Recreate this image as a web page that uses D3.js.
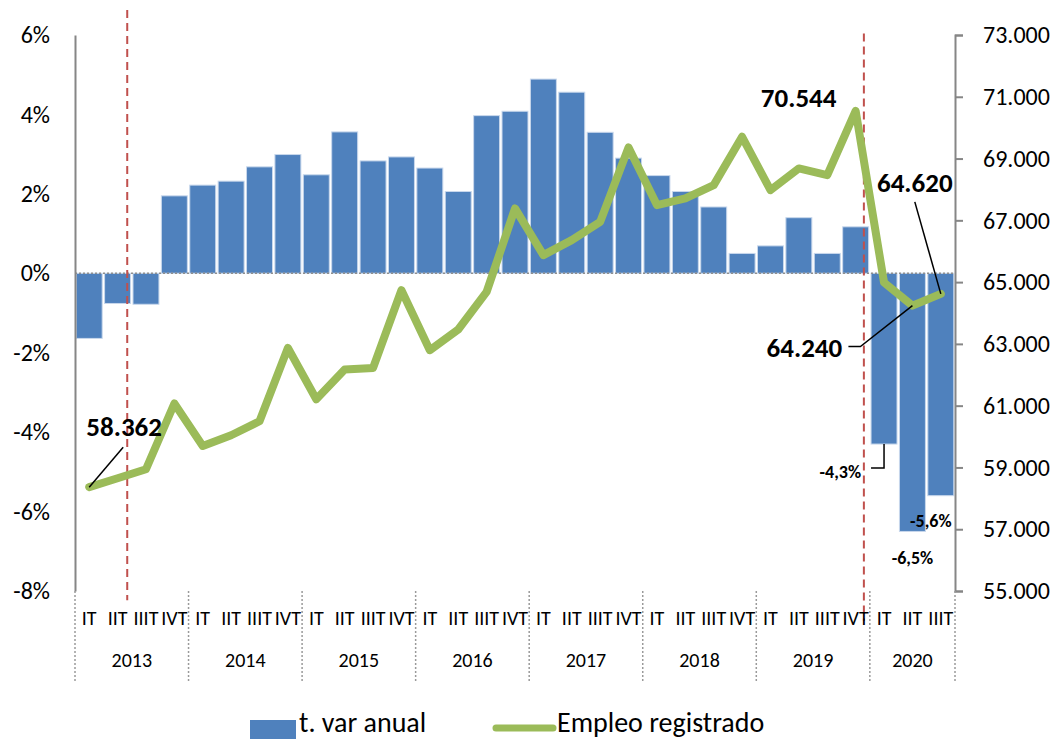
<!DOCTYPE html>
<html>
<head>
<meta charset="utf-8">
<script src="https://cdn.jsdelivr.net/npm/d3@7/dist/d3.min.js"></script>
<style>
  html, body { margin: 0; padding: 0; background: #fff; }
  svg { display: block; font-family: Carlito, Lato, "Open Sans", sans-serif; }
</style>
</head>
<body>
<svg id="chart" width="1059" height="741"></svg>
<script>
// ---------------- DATA ----------------
const years = ["2013", "2014", "2015", "2016", "2017", "2018", "2019", "2020"];
const quarterLabels = ["IT", "IIT", "IIIT", "IVT"];
const quartersPerYear = [4, 4, 4, 4, 4, 4, 4, 3];

// t. var anual (%)
const tasaVar = [-1.64, -0.76, -0.78, 1.95,
                 2.22, 2.32, 2.68, 2.99,
                 2.48, 3.56, 2.83, 2.93,
                 2.65, 2.06, 3.97, 4.08,
                 4.89, 4.56, 3.55, 2.90,
                 2.46, 2.06, 1.67, 0.50,
                 0.69, 1.40, 0.50, 1.17,
                 -4.3, -6.5, -5.6];

// Empleo registrado
const empleo = [58362, 58650, 58942, 61070,
                59696, 60043, 60496, 62870,
                61209, 62170, 62222, 64739,
                62796, 63466, 64684, 67385,
                65873, 66359, 66952, 69361,
                67493, 67709, 68140, 69704,
                67978, 68681, 68464, 70544,
                64988, 64240, 64620];

const leftTicks = [-8, -6, -4, -2, 0, 2, 4, 6];
const rightTicks = [55000, 57000, 59000, 61000, 63000, 65000, 67000, 69000, 71000, 73000];

// indices of labelled points
const lineLabelIdx = [0, 27, 29, 30];
const barLabelIdx = [28, 29, 30];
// red dashed reference lines (category position, top %, bottom %)
const refLines = [{ pos: 1.84, top: 6.63, bottom: -8.23 }, { pos: 27.79, top: 6.04, bottom: -8.75 }];

// ---------------- BUILD ----------------
const categories = [];
years.forEach((y, yi) => {
  for (let q = 0; q < quartersPerYear[yi]; q++) categories.push({ id: y + "-" + q, year: y, q: quarterLabels[q] });
});

const plot = { left: 75, right: 955, top: 35, bottom: 591 };
const svg = d3.select("#chart");

const x = d3.scaleBand().domain(categories.map(d => d.id))
  .range([plot.left, plot.right]).paddingInner(0.085).paddingOuter(0.0425);
const step = x.step();
const xPos = p => plot.left + p * step; // continuous category position

const yL = d3.scaleLinear().domain([-8, 6]).range([plot.bottom, plot.top]);
const yR = d3.scaleLinear().domain([55000, 73000]).range([plot.bottom, plot.top]);

const esLocale = d3.formatLocale({ decimal: ",", thousands: ".", grouping: [3], currency: ["", " €"], minus: "-" });
const fmtThousands = esLocale.format(",d");
const fmtPct = esLocale.format(".1f");

const blue = "#4F81BD", green = "#9BBB59", gray = "#868686", red = "#C0504D";
const FONT = "Carlito, Lato, sans-serif";

// bars
svg.append("g").selectAll("rect").data(tasaVar).join("rect")
  .attr("x", (d, i) => x(categories[i].id))
  .attr("width", x.bandwidth())
  .attr("y", d => yL(Math.max(0, d)))
  .attr("height", d => Math.abs(yL(d) - yL(0)))
  .attr("fill", blue)
  .attr("stroke", "#c9d8ec")
  .attr("stroke-width", 1);

// zero line (dotted)
svg.append("line")
  .attr("x1", plot.left).attr("x2", plot.right)
  .attr("y1", yL(0)).attr("y2", yL(0))
  .attr("stroke", "#8f8f8f").attr("stroke-width", 1.5).attr("stroke-dasharray", "2,2");

// red dashed reference lines
svg.append("g").selectAll("line").data(refLines).join("line")
  .attr("x1", d => xPos(d.pos)).attr("x2", d => xPos(d.pos))
  .attr("y1", d => yL(d.top)).attr("y2", d => yL(d.bottom))
  .attr("stroke", red).attr("stroke-width", 2).attr("stroke-dasharray", "8,5");

// left axis
const axL = d3.axisLeft(yL).tickValues(leftTicks).tickSize(0).tickPadding(25).tickFormat(d => d + "%");
const gL = svg.append("g").attr("transform", `translate(${plot.left},0)`).call(axL);
gL.select(".domain").attr("stroke", gray).attr("stroke-width", 2);
gL.selectAll("text").attr("font-size", 24).attr("fill", "#000").attr("font-family", FONT);

// right axis
const axR = d3.axisRight(yR).tickValues(rightTicks).tickSize(8).tickSizeOuter(8).tickPadding(20).tickFormat(fmtThousands);
const gR = svg.append("g").attr("transform", `translate(${plot.right},0)`).call(axR);
gR.select(".domain").attr("stroke", gray).attr("stroke-width", 2);
gR.selectAll(".tick line").attr("stroke", gray).attr("stroke-width", 2);
gR.selectAll("text").attr("font-size", 24).attr("fill", "#000").attr("font-family", FONT);

// category axis (below plot)
const gX = svg.append("g");
gX.selectAll("text.q").data(categories).join("text")
  .attr("class", "q")
  .attr("x", d => x(d.id) + x.bandwidth() / 2)
  .attr("y", 618)
  .attr("text-anchor", "middle").attr("dominant-baseline", "central")
  .attr("font-size", 20).text(d => d.q);

// year separators
const yearStarts = [];
let acc = 0;
years.forEach((y, yi) => { yearStarts.push({ year: y, start: acc, n: quartersPerYear[yi] }); acc += quartersPerYear[yi]; });
const seps = yearStarts.map(d => d.start).concat([acc]);
gX.selectAll("line.sep").data(seps).join("line")
  .attr("class", "sep")
  .attr("x1", d => xPos(d)).attr("x2", d => xPos(d))
  .attr("y1", plot.bottom).attr("y2", 681)
  .attr("stroke", "#9a9a9a").attr("stroke-width", 1.5).attr("stroke-dasharray", "2,2");
gX.selectAll("text.yr").data(yearStarts).join("text")
  .attr("class", "yr")
  .attr("x", d => xPos(d.start + d.n / 2))
  .attr("y", 660)
  .attr("text-anchor", "middle").attr("dominant-baseline", "central")
  .attr("font-size", 20).text(d => d.year);

// line
const line = d3.line()
  .x((d, i) => x(categories[i].id) + x.bandwidth() / 2)
  .y(d => yR(d));
svg.append("path").datum(empleo)
  .attr("d", line)
  .attr("fill", "none").attr("stroke", green).attr("stroke-width", 8)
  .attr("stroke-linejoin", "round").attr("stroke-linecap", "round");

// ---------- data labels ----------
const cx = i => x(categories[i].id) + x.bandwidth() / 2;
const lbl = svg.append("g").attr("font-weight", "bold").attr("fill", "#000");

const lineLabelLayout = {
  0:  { dx: 35, dy: -61, anchor: "middle", leader: [[34, -40], [0, 0]] },
  27: { dx: -57, dy: -13, anchor: "middle", leader: null },
  29: { dx: -108, dy: 42, anchor: "middle", leader: [[-64, 41], [-52, 41], [0, 0]] },
  30: { dx: -26, dy: -111, anchor: "middle", leader: [[-26, -92], [0, 0]] }
};
lineLabelIdx.forEach(i => {
  const L = lineLabelLayout[i];
  const px = cx(i), py = yR(empleo[i]);
  if (L.leader) {
    lbl.append("polyline")
      .attr("points", L.leader.map(p => [px + p[0], py + p[1]].join(",")).join(" "))
      .attr("fill", "none").attr("stroke", "#000").attr("stroke-width", 1.5);
  }
  lbl.append("text").attr("x", px + L.dx).attr("y", py + L.dy)
    .attr("text-anchor", L.anchor).attr("dominant-baseline", "central")
    .attr("font-size", 27).text(fmtThousands(empleo[i]));
});

const barLabelLayout = {
  28: { dx: -23, dy: 28, anchor: "end", leader: [[0, 0], [0, 24], [-13, 24]] },
  29: { dx: 0, dy: 27, anchor: "middle", leader: null },
  30: { dx: -10, dy: 25, anchor: "middle", leader: null }
};
barLabelIdx.forEach(i => {
  const L = barLabelLayout[i];
  const px = cx(i), py = yL(tasaVar[i]);
  if (L.leader) {
    lbl.append("polyline")
      .attr("points", L.leader.map(p => [px + p[0], py + p[1]].join(",")).join(" "))
      .attr("fill", "none").attr("stroke", "#000").attr("stroke-width", 1.5);
  }
  lbl.append("text").attr("x", px + L.dx).attr("y", py + L.dy)
    .attr("text-anchor", L.anchor).attr("dominant-baseline", "central")
    .attr("font-size", 18).text(fmtPct(tasaVar[i]) + "%");
});

// ---------- legend ----------
const lg = svg.append("g");
lg.append("rect").attr("x", 250).attr("y", 720).attr("width", 46).attr("height", 19).attr("fill", blue);
lg.append("text").attr("x", 299).attr("y", 732).attr("font-size", 28).text("t. var anual");
lg.append("line").attr("x1", 496).attr("x2", 553).attr("y1", 728).attr("y2", 728)
  .attr("stroke", green).attr("stroke-width", 7).attr("stroke-linecap", "round");
lg.append("text").attr("x", 557).attr("y", 732).attr("font-size", 28).text("Empleo registrado");
</script>
</body>
</html>
